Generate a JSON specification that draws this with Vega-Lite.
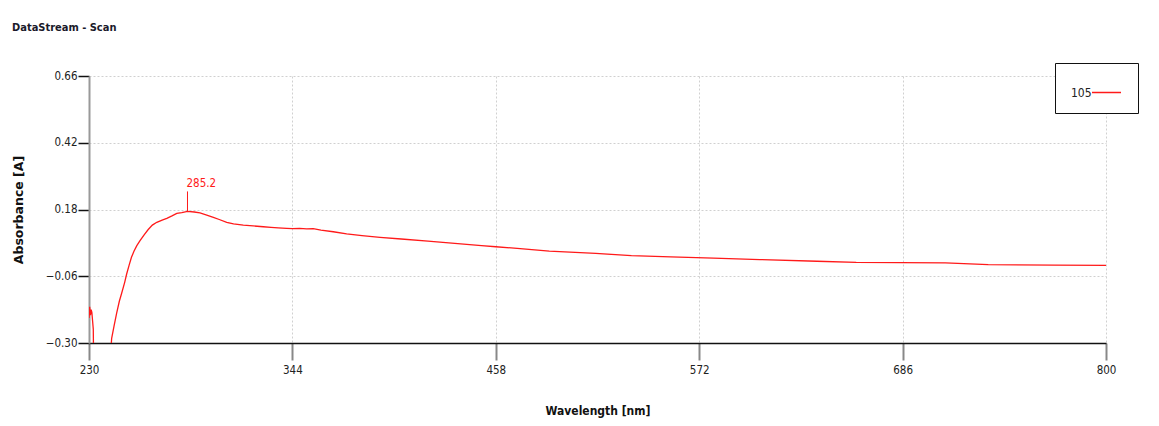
{
  "$schema": "https://vega.github.io/schema/vega-lite/v6.json",
  "autosize": "none",
  "width": 1017,
  "height": 267,
  "padding": {"left": 89, "top": 76, "right": 53, "bottom": 83},
  "background": "white",
  "title": {
    "text": "DataStream - Scan",
    "anchor": "start",
    "frame": "group",
    "dx": -77,
    "offset": 30,
    "font": "DejaVu Sans Condensed, Liberation Sans, sans-serif",
    "fontSize": 11,
    "fontWeight": "bold",
    "color": "#1a1a2a"
  },
  "config": {
    "view": {"stroke": null},
    "font": "DejaVu Sans Condensed, Liberation Sans, sans-serif",
    "axis": {
      "labelFont": "DejaVu Sans Condensed, Liberation Sans, sans-serif",
      "labelFontSize": 11.5,
      "labelColor": "#222",
      "labelFlush": false,
      "gridColor": "#d0d0d0",
      "gridDash": [2, 2],
      "gridWidth": 1
    },
    "legend": {
      "labelFont": "DejaVu Sans Condensed, Liberation Sans, sans-serif",
      "labelFontSize": 12
    }
  },
  "data": {
    "values": [
      {"series": "105", "wl": 230, "abs": -0.21},
      {"series": "105", "wl": 230.4, "abs": -0.17},
      {"series": "105", "wl": 230.8, "abs": -0.2},
      {"series": "105", "wl": 231.2, "abs": -0.18},
      {"series": "105", "wl": 231.6, "abs": -0.19},
      {"series": "105", "wl": 232, "abs": -0.22},
      {"series": "105", "wl": 232.4, "abs": -0.25},
      {"series": "105", "wl": 232.8, "abs": -0.5},
      {"series": "105", "wl": 233.5, "abs": -0.9},
      {"series": "105", "wl": 240, "abs": -0.9},
      {"series": "105", "wl": 241.5, "abs": -0.4},
      {"series": "105", "wl": 242.7, "abs": -0.283},
      {"series": "105", "wl": 244, "abs": -0.24},
      {"series": "105", "wl": 245.5, "abs": -0.193},
      {"series": "105", "wl": 247, "abs": -0.15},
      {"series": "105", "wl": 248.3, "abs": -0.121},
      {"series": "105", "wl": 250, "abs": -0.082},
      {"series": "105", "wl": 251.1, "abs": -0.052},
      {"series": "105", "wl": 252.5, "abs": -0.02},
      {"series": "105", "wl": 253.8, "abs": 0.008},
      {"series": "105", "wl": 255.2, "abs": 0.03},
      {"series": "105", "wl": 256.8, "abs": 0.05},
      {"series": "105", "wl": 258.6, "abs": 0.068},
      {"series": "105", "wl": 261, "abs": 0.09},
      {"series": "105", "wl": 263.2, "abs": 0.108},
      {"series": "105", "wl": 265.5, "abs": 0.124},
      {"series": "105", "wl": 268, "abs": 0.134},
      {"series": "105", "wl": 271, "abs": 0.142},
      {"series": "105", "wl": 273.6, "abs": 0.148},
      {"series": "105", "wl": 276.5, "abs": 0.157},
      {"series": "105", "wl": 279.2, "abs": 0.166},
      {"series": "105", "wl": 282, "abs": 0.169},
      {"series": "105", "wl": 285.2, "abs": 0.173},
      {"series": "105", "wl": 289, "abs": 0.171},
      {"series": "105", "wl": 292.2, "abs": 0.168},
      {"series": "105", "wl": 296, "abs": 0.16},
      {"series": "105", "wl": 299.7, "abs": 0.152},
      {"series": "105", "wl": 303, "abs": 0.144},
      {"series": "105", "wl": 307.2, "abs": 0.134},
      {"series": "105", "wl": 311, "abs": 0.128},
      {"series": "105", "wl": 316.5, "abs": 0.124},
      {"series": "105", "wl": 322, "abs": 0.121},
      {"series": "105", "wl": 327.7, "abs": 0.118},
      {"series": "105", "wl": 332, "abs": 0.116},
      {"series": "105", "wl": 336, "abs": 0.114},
      {"series": "105", "wl": 340.8, "abs": 0.112},
      {"series": "105", "wl": 344, "abs": 0.111},
      {"series": "105", "wl": 348, "abs": 0.112},
      {"series": "105", "wl": 352, "abs": 0.11},
      {"series": "105", "wl": 355.7, "abs": 0.111},
      {"series": "105", "wl": 360, "abs": 0.106},
      {"series": "105", "wl": 366.9, "abs": 0.1},
      {"series": "105", "wl": 374.4, "abs": 0.092},
      {"series": "105", "wl": 383, "abs": 0.086},
      {"series": "105", "wl": 393.1, "abs": 0.08},
      {"series": "105", "wl": 405, "abs": 0.074},
      {"series": "105", "wl": 420, "abs": 0.066},
      {"series": "105", "wl": 435, "abs": 0.058},
      {"series": "105", "wl": 450, "abs": 0.05},
      {"series": "105", "wl": 458, "abs": 0.046},
      {"series": "105", "wl": 470, "abs": 0.04},
      {"series": "105", "wl": 488, "abs": 0.03},
      {"series": "105", "wl": 514, "abs": 0.022},
      {"series": "105", "wl": 534, "abs": 0.014},
      {"series": "105", "wl": 556, "abs": 0.01},
      {"series": "105", "wl": 580, "abs": 0.005},
      {"series": "105", "wl": 606, "abs": 0.0},
      {"series": "105", "wl": 638, "abs": -0.006},
      {"series": "105", "wl": 660, "abs": -0.01},
      {"series": "105", "wl": 710, "abs": -0.012},
      {"series": "105", "wl": 734, "abs": -0.018},
      {"series": "105", "wl": 771, "abs": -0.02},
      {"series": "105", "wl": 800, "abs": -0.021}
    ]
  },
  "layer": [
    {
      "mark": {"type": "line", "clip": true, "strokeWidth": 1.3, "interpolate": "linear"},
      "encoding": {
        "x": {
          "field": "wl", "type": "quantitative",
          "scale": {"domain": [230, 800], "nice": false, "zero": false},
          "axis": {
            "values": [230, 344, 458, 572, 686, 800],
            "format": "d",
            "title": "Wavelength [nm]",
            "titleFont": "DejaVu Sans Condensed, Liberation Sans, sans-serif",
            "titleFontSize": 12,
            "titleFontWeight": "bold",
            "titleColor": "#111",
            "titleY": 67,
            "titleBaseline": "middle",
            "domainColor": "#111",
            "domainWidth": 1.5,
            "tickColor": "#888",
            "tickWidth": 2,
            "tickSize": 17,
            "labelPadding": 4,
            "grid": true
          }
        },
        "y": {
          "field": "abs", "type": "quantitative",
          "scale": {"domain": [-0.3, 0.66], "nice": false, "zero": false},
          "axis": {
            "values": [-0.3, -0.06, 0.18, 0.42, 0.66],
            "format": ".2f",
            "title": "Absorbance [A]",
            "titleFont": "DejaVu Sans, sans-serif",
            "titleFontSize": 12.5,
            "titleFontWeight": "bold",
            "titleColor": "#111",
            "titleX": -71,
            "titleBaseline": "middle",
            "domainColor": "#999",
            "domainWidth": 2,
            "tickColor": "#111",
            "tickWidth": 1.5,
            "tickSize": 11,
            "labelPadding": 1,
            "grid": true
          }
        },
        "color": {
          "field": "series", "type": "nominal",
          "scale": {"range": ["#ff1a1a"]},
          "legend": {
            "title": null,
            "orient": "none",
            "legendX": 966,
            "legendY": -13,
            "fillColor": "white",
            "strokeColor": "#111",
            "padding": 14,
            "symbolType": "stroke",
            "symbolSize": 841,
            "symbolStrokeWidth": 1.5,
            "symbolOffset": 22,
            "labelAlign": "left",
            "labelOffset": -51,
            "labelColor": "#222"
          }
        }
      }
    },
    {
      "data": {"values": [{"wl": 285.2, "y1": 0.173, "y2": 0.245}]},
      "mark": {"type": "rule", "color": "#ff1a1a", "strokeWidth": 1},
      "encoding": {
        "x": {"field": "wl", "type": "quantitative"},
        "y": {"field": "y1", "type": "quantitative"},
        "y2": {"field": "y2"}
      }
    },
    {
      "data": {"values": [{"wl": 285.2, "label": "285.2", "ty": 0.255}]},
      "mark": {"type": "text", "color": "#ff1a1a", "align": "left", "baseline": "bottom", "dx": -1, "font": "DejaVu Sans Condensed, Liberation Sans, sans-serif", "fontSize": 11.5},
      "encoding": {
        "x": {"field": "wl", "type": "quantitative"},
        "y": {"field": "ty", "type": "quantitative"},
        "text": {"field": "label"}
      }
    }
  ]
}
